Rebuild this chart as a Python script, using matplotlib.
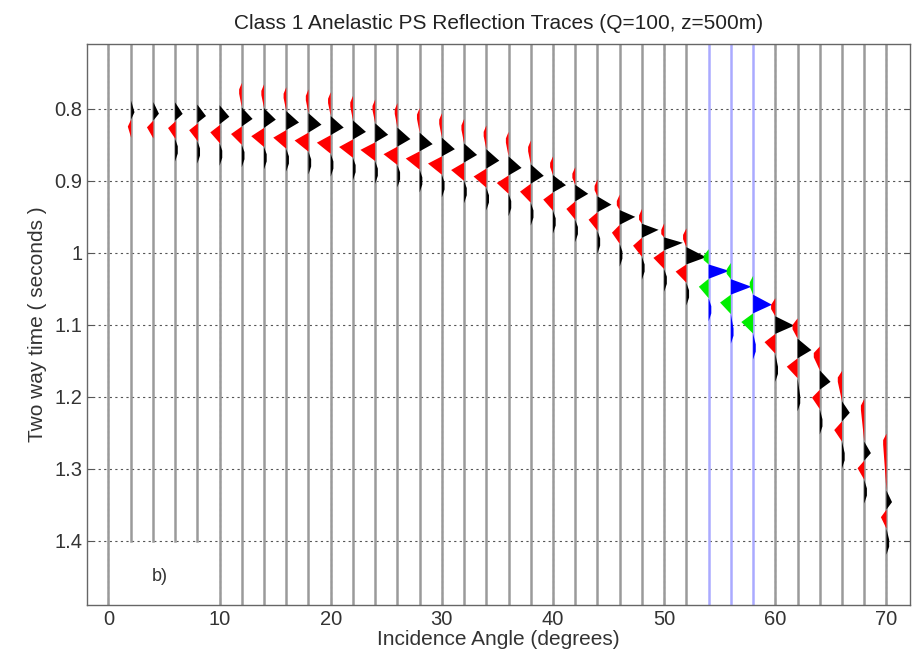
import numpy as np
import matplotlib.pyplot as plt

plt.rcParams['font.family'] = ['Liberation Sans', 'DejaVu Sans']

# trace positions (incidence angle, degrees)
angles = [0, 2, 4, 6, 8, 10, 12, 14, 16, 18, 20, 22, 24, 26, 28, 30, 32, 34,
          36, 38, 40, 42, 44, 46, 48, 50, 52, 54, 56, 58, 60, 62, 64, 66, 68, 70]

# main positive lobe (time, s / amplitude in trace units)
t_pos = [0.804, 0.804, 0.806, 0.807, 0.810, 0.811, 0.814, 0.815, 0.819, 0.822,
         0.826, 0.832, 0.836, 0.842, 0.849, 0.856, 0.864, 0.872, 0.882, 0.893,
         0.906, 0.918, 0.933, 0.950, 0.968, 0.986, 1.006, 1.025, 1.047, 1.072,
         1.101, 1.135, 1.179, 1.222, 1.278, 1.346]
a_pos = [0, 0.3, 0.5, 0.68, 0.78, 0.88, 0.97, 1.06, 1.15, 1.17,
         1.17, 1.17, 1.17, 1.17, 1.17, 1.17, 1.17, 1.17, 1.17, 1.17,
         1.17, 1.17, 1.26, 1.4, 1.5, 1.68, 1.78, 1.86, 1.86, 1.7,
         1.7, 1.25, 0.97, 0.7, 0.6, 0.5]

# main negative lobe
t_neg = [0.824, 0.824, 0.825, 0.826, 0.829, 0.832, 0.835, 0.838, 0.840, 0.844,
         0.847, 0.853, 0.857, 0.863, 0.869, 0.876, 0.885, 0.894, 0.903, 0.915,
         0.926, 0.939, 0.954, 0.972, 0.990, 1.007, 1.026, 1.047, 1.069, 1.096,
         1.124, 1.158, 1.201, 1.246, 1.299, 1.367]
a_neg = [0, -0.3, -0.58, -0.68, -0.78, -0.88, -0.97, -1.15, -1.17, -1.25,
         -1.25, -1.25, -1.33, -1.25, -1.25, -1.25, -1.17, -1.15, -1.06, -0.97,
         -0.88, -0.8, -0.8, -0.7, -0.8, -0.97, -0.97, -0.88, -0.97, -1.06,
         -0.97, -0.97, -0.7, -0.7, -0.6, -0.5]

# small negative precursor
t_pre = [0.767, 0.767, 0.769, 0.770, 0.773, 0.774, 0.776, 0.778, 0.782, 0.785,
         0.789, 0.794, 0.799, 0.804, 0.811, 0.818, 0.826, 0.835, 0.844, 0.856,
         0.878, 0.893, 0.910, 0.931, 0.951, 0.971, 0.978, 1.007, 1.026, 1.044,
         1.075, 1.103, 1.142, 1.176, 1.215, 1.263]
a_pre = [0, 0, 0, 0, 0, 0, -0.24, -0.24, -0.24, -0.24,
         -0.24, -0.24, -0.24, -0.24, -0.24, -0.24, -0.24, -0.24, -0.24, -0.24,
         -0.26, -0.26, -0.26, -0.26, -0.26, -0.26, -0.3, -0.45, -0.38, -0.3,
         -0.38, -0.45, -0.54, -0.38, -0.3, -0.3]

# small positive tail
t_tail = [0.855, 0.855, 0.856, 0.857, 0.860, 0.863, 0.865, 0.868, 0.871, 0.875,
          0.878, 0.883, 0.888, 0.893, 0.900, 0.907, 0.915, 0.925, 0.933, 0.946,
          0.957, 0.969, 0.985, 1.003, 1.021, 1.038, 1.057, 1.079, 1.110, 1.132,
          1.163, 1.204, 1.236, 1.283, 1.332, 1.403]
a_tail = [0, 0, 0, 0.24, 0.24, 0.24, 0.24, 0.24, 0.24, 0.24,
          0.24, 0.24, 0.24, 0.24, 0.24, 0.24, 0.24, 0.24, 0.24, 0.24,
          0.24, 0.24, 0.24, 0.24, 0.24, 0.24, 0.24, 0.24, 0.24, 0.24,
          0.24, 0.24, 0.24, 0.24, 0.24, 0.24]

# last time sample of each trace
t_end = [1.5, 1.4, 1.4, 1.4, 1.4, 1.5, 1.5, 1.5, 1.5, 1.5,
         1.5, 1.5, 1.5, 1.5, 1.5, 1.5, 1.5, 1.5, 1.5, 1.5,
         1.5, 1.5, 1.5, 1.5, 1.5, 1.5, 1.5, 1.5, 1.5, 1.5,
         1.5, 1.5, 1.5, 1.5, 1.5, 1.5]

highlight = [54, 56, 58]   # critical-angle traces

fig = plt.figure(figsize=(9.19, 6.62), dpi=100)
ax = fig.add_axes([0.095, 0.086, 0.895, 0.8475])

t = np.linspace(0.70, 1.50, 4001)
for i, a in enumerate(angles):
    if a in highlight:
        line_c, pos_c, neg_c = '#aaaaff', '#0000ff', '#00ee00'
    else:
        line_c, pos_c, neg_c = '#9a9a9a', 'black', 'red'

    ax.plot([a, a], [0.70, t_end[i]], color=line_c, lw=1.8, zorder=2)

    z1 = max(t_pos[i] - 0.016, 0.5 * (t_pre[i] + t_pos[i]))
    z2 = 0.5 * (t_pos[i] + t_neg[i])
    z3 = min(t_neg[i] + 0.016, 0.5 * (t_neg[i] + t_tail[i]))
    kt = [t_pre[i] - 0.012, t_pre[i] - 0.003, t_pre[i] + 0.003, z1,
          t_pos[i], z2, t_neg[i], z3,
          t_tail[i] - 0.005, t_tail[i] + 0.005, t_tail[i] + 0.016]
    kv = [0, a_pre[i], a_pre[i], 0, a_pos[i], 0, a_neg[i], 0,
          a_tail[i], a_tail[i], 0]
    w = np.interp(t, kt, kv)
    ax.fill_betweenx(t, a, a + w, where=w > 0, color=pos_c, lw=0,
                     interpolate=True, zorder=3)
    ax.fill_betweenx(t, a, a + w, where=w < 0, color=neg_c, lw=0,
                     interpolate=True, zorder=3)

ax.set_xlim(-1.9, 72.1)
ax.set_ylim(1.489, 0.71)
ax.set_xticks([0, 10, 20, 30, 40, 50, 60, 70])
ax.set_yticks([0.8, 0.9, 1.0, 1.1, 1.2, 1.3, 1.4])
ax.set_yticklabels(['0.8', '0.9', '1', '1.1', '1.2', '1.3', '1.4'])
ax.grid(True, linestyle=(0, (2, 3)), color='#555555', lw=0.8, zorder=0)
ax.set_axisbelow(True)
ax.tick_params(direction='in', length=4, top=True, right=True,
               labelsize=14.5, colors='#555555', labelcolor='#333333')
for s in ax.spines.values():
    s.set_color('#666666')
    s.set_linewidth(1.0)

ax.set_title('Class 1 Anelastic PS Reflection Traces (Q=100, z=500m)',
             fontsize=15, color='#222222', pad=11)
ax.set_xlabel('Incidence Angle (degrees)', fontsize=15, color='#333333',
              labelpad=1)
ax.set_ylabel('Two way time ( seconds )', fontsize=15, color='#333333',
              labelpad=5)
ax.text(4.6, 1.45, 'b)', fontsize=13, color='#333333', ha='center',
        va='center')

fig.savefig('out.png', dpi=100)
